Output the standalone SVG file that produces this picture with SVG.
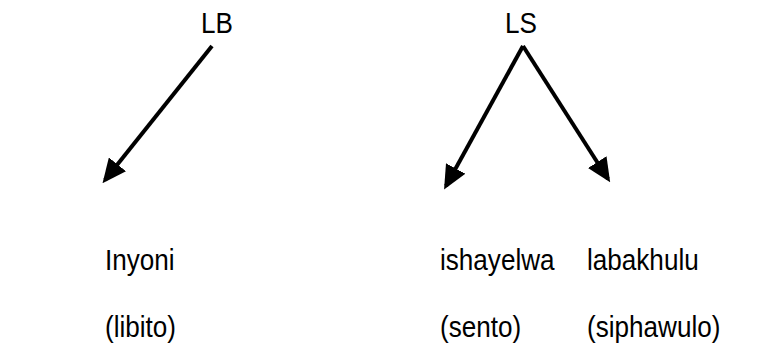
<svg xmlns="http://www.w3.org/2000/svg" width="757" height="354" viewBox="0 0 757 354">
<style>
text{font-family:"Liberation Sans",Arial,sans-serif;font-size:29px;fill:#000}
.c{stroke:#000;stroke-width:4;fill:none}
</style>
<defs>
<marker id="ah" markerWidth="6" markerHeight="5.5" refX="5" refY="2.75" orient="auto" markerUnits="strokeWidth">
<path d="M0,0 L6,2.75 L0,5.5 Z" fill="#000"/>
</marker>
</defs>
<rect width="757" height="354" fill="#fff"/>
<g id="connectors">
<line class="c" x1="212" y1="46" x2="105" y2="180" marker-end="url(#ah)"/>
<line class="c" x1="523" y1="46" x2="446" y2="186" marker-end="url(#ah)"/>
<line class="c" x1="523" y1="46" x2="608" y2="179" marker-end="url(#ah)"/>
</g>
<g id="LB"><text transform="translate(201,33) scale(0.9,1)">LB</text></g>
<g id="LS"><text transform="translate(505,33) scale(0.9,1)">LS</text></g>
<g id="Inyoni"><text transform="translate(105,270) scale(0.9,1)">Inyoni</text><text transform="translate(105,337) scale(0.9,1)">(libito)</text></g>
<g id="ishayelwa"><text transform="translate(440,270) scale(0.9,1)">ishayelwa</text><text transform="translate(440,337) scale(0.9,1)">(sento)</text></g>
<g id="labakhulu"><text transform="translate(587,270) scale(0.9,1)">labakhulu</text><text transform="translate(587,337) scale(0.9,1)">(siphawulo)</text></g>
</svg>
